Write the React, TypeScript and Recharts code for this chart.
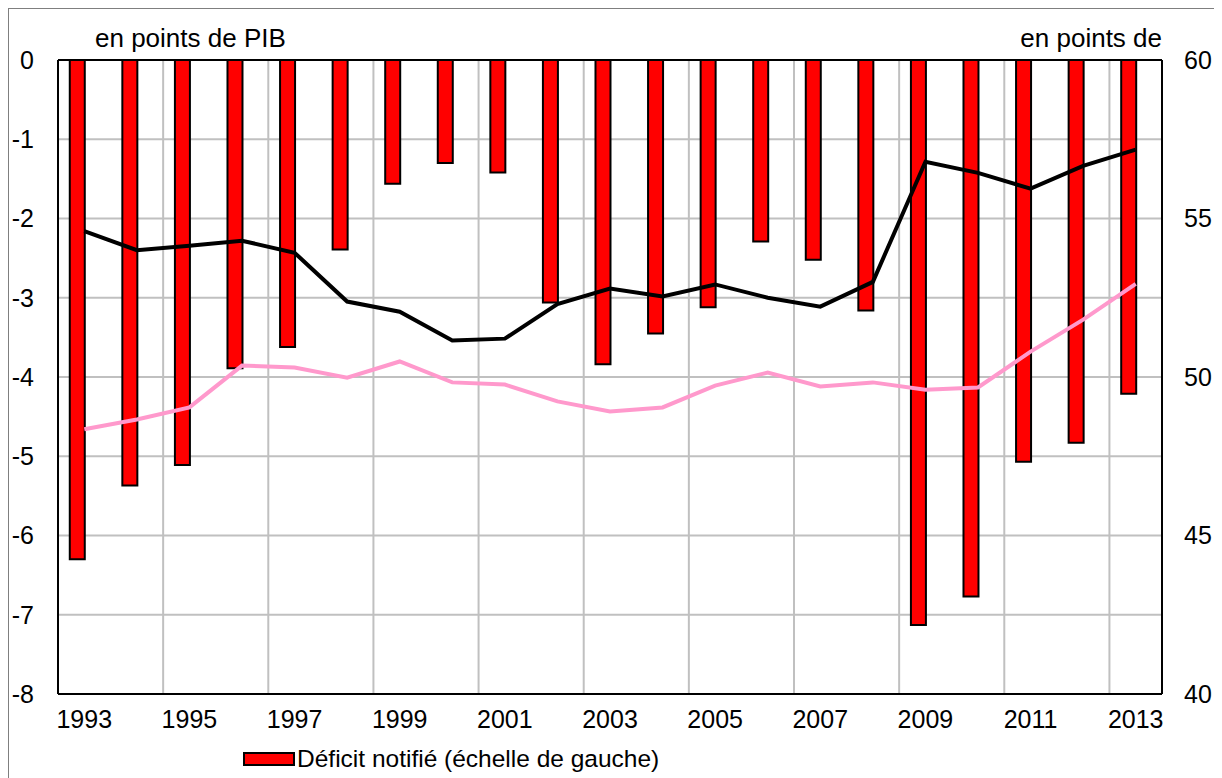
import {
  Bar,
  CartesianGrid,
  ComposedChart,
  Legend,
  Line,
  ReferenceLine,
  XAxis,
  YAxis,
} from "recharts";

// Déficit notifié (bars, left axis) with two ratios on the right axis,
// all in points de PIB, France 1993-2013.

const years = [
  "1993", "1994", "1995", "1996", "1997", "1998", "1999", "2000", "2001", "2002",
  "2003", "2004", "2005", "2006", "2007", "2008", "2009", "2010", "2011", "2012", "2013",
];

// left axis, en points de PIB
const deficit = [
  -6.3, -5.37, -5.11, -3.89, -3.62, -2.39, -1.56, -1.3, -1.42, -3.06,
  -3.84, -3.45, -3.12, -2.29, -2.52, -3.16, -7.13, -6.77, -5.07, -4.83, -4.21,
];

// right axis, black line
const depenses = [
  54.6, 54.0, 54.14, 54.3, 53.92, 52.38, 52.06, 51.15, 51.21, 52.3,
  52.79, 52.54, 52.92, 52.5, 52.22, 53.0, 56.79, 56.44, 55.94, 56.66, 57.17,
];

// right axis, pink line
const recettes = [
  48.35, 48.66, 49.04, 50.36, 50.3, 49.98, 50.49, 49.83, 49.76, 49.23,
  48.91, 49.04, 49.73, 50.14, 49.7, 49.83, 49.6, 49.67, 50.8, 51.81, 52.94,
];

const leftTicks = [-8, -7, -6, -5, -4, -3, -2, -1, 0];
const rightTicks = [40, 45, 50, 55, 60];
// vertical grid every two years, drawn at the start of the band
const gridYears = ["1995", "1997", "1999", "2001", "2003", "2005", "2007", "2009", "2011", "2013"];

const FONT = '"Liberation Sans", Arial, Helvetica, sans-serif';
const GRID = "#c0c0c0";

const data = years.map((year, i) => ({
  year,
  deficit: deficit[i],
  // second (empty) bar slot of the original workbook: keeps the red bar
  // on the left half of each year
  vide: null as number | null,
  depenses: depenses[i],
  recettes: recettes[i],
}));

const tick = { fill: "#000", fontSize: 25, fontFamily: FONT };

function LegendContent() {
  return (
    <div
      style={{
        display: "flex",
        alignItems: "center",
        height: 26,
        paddingLeft: 234,
        fontFamily: FONT,
        fontSize: 24.5,
        color: "#000",
      }}
    >
      <span
        style={{
          display: "inline-block",
          width: 52,
          height: 14,
          boxSizing: "border-box",
          background: "#ff0000",
          border: "2px solid #000",
          marginRight: 2,
        }}
      />
      <span>Déficit notifié (échelle de gauche)</span>
    </div>
  );
}

const titleStyle = {
  position: "absolute" as const,
  top: 16,
  fontFamily: FONT,
  fontSize: 26,
  lineHeight: "26px",
  color: "#000",
  whiteSpace: "nowrap" as const,
};

export default function App() {
  return (
    <div
      style={{
        position: "relative",
        width: 1208,
        height: 780,
        border: "1px solid #7f7f7f",
        background: "#fff",
      }}
    >
      <style>{"html,body{overflow:hidden}"}</style>
      <div style={{ ...titleStyle, left: 86 }}>en points de PIB</div>
      <div style={{ ...titleStyle, right: 55 }}>en points de</div>
      <ComposedChart
        width={1208}
        height={780}
        data={data}
        margin={{ top: 51, right: 0, left: 0, bottom: 17 }}
        barCategoryGap="22.4%"
        barGap={0}
      >
        <CartesianGrid
          yAxisId="left"
          vertical={false}
          stroke={GRID}
          strokeWidth={2}
        />
        {gridYears.map((y) => (
          <ReferenceLine
            key={y}
            x={y}
            yAxisId="left"
            position="start"
            stroke={GRID}
            strokeWidth={2}
          />
        ))}
        <XAxis
          dataKey="year"
          interval={1}
          tick={tick}
          tickLine={false}
          tickSize={0}
          tickMargin={16}
          height={52}
          axisLine={{ stroke: "#000", strokeWidth: 2 }}
        />
        <YAxis
          yAxisId="left"
          domain={[-8, 0]}
          ticks={leftTicks}
          tick={tick}
          tickLine={false}
          tickSize={0}
          tickMargin={24}
          width={49}
          axisLine={{ stroke: "#000", strokeWidth: 2 }}
          allowDataOverflow
        />
        <YAxis
          yAxisId="right"
          orientation="right"
          domain={[40, 60]}
          ticks={rightTicks}
          tick={tick}
          tickLine={false}
          tickSize={0}
          tickMargin={22}
          width={55}
          axisLine={{ stroke: "#000", strokeWidth: 2 }}
        />
        <Bar
          yAxisId="left"
          dataKey="deficit"
          name="Déficit notifié (échelle de gauche)"
          fill="#ff0000"
          stroke="#000"
          strokeWidth={2}
          isAnimationActive={false}
        />
        <Bar
          yAxisId="left"
          dataKey="vide"
          legendType="none"
          fill="none"
          isAnimationActive={false}
        />
        <Line
          yAxisId="right"
          dataKey="recettes"
          type="linear"
          stroke="#ff99cc"
          strokeWidth={4}
          dot={false}
          legendType="none"
          isAnimationActive={false}
        />
        <Line
          yAxisId="right"
          dataKey="depenses"
          type="linear"
          stroke="#000"
          strokeWidth={4}
          dot={false}
          legendType="none"
          isAnimationActive={false}
        />
        <ReferenceLine yAxisId="left" y={0} stroke="#000" strokeWidth={2} />
        <Legend verticalAlign="bottom" height={26} content={LegendContent} />
      </ComposedChart>
    </div>
  );
}
